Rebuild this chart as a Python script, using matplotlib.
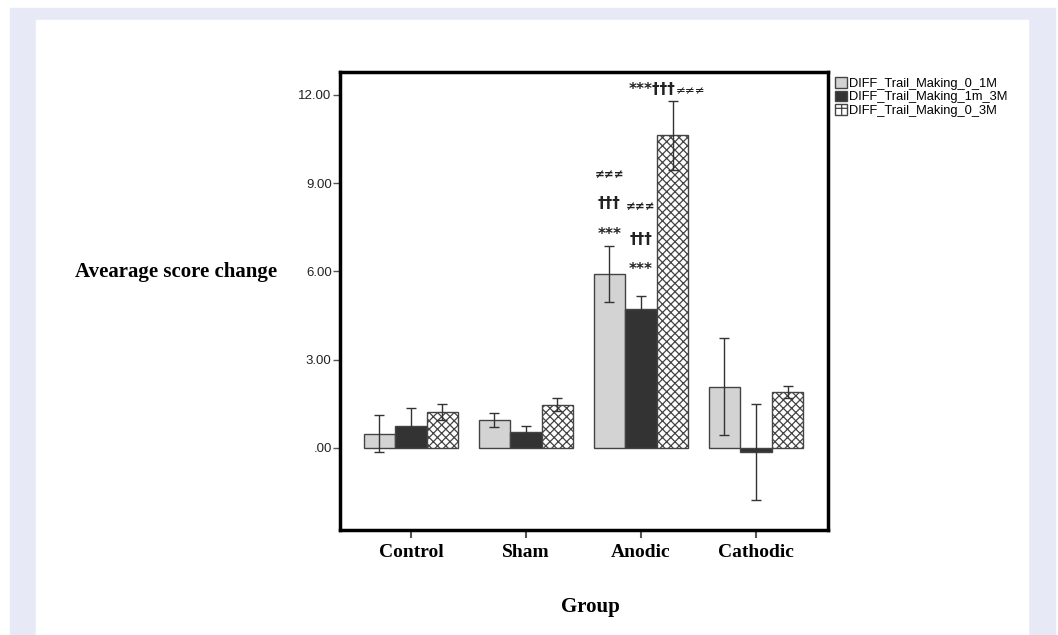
import matplotlib.pyplot as plt
from matplotlib.patches import Rectangle, Patch
from matplotlib.ticker import FuncFormatter
import numpy as np

# data
groups = ['Control', 'Sham', 'Anodic', 'Cathodic']
series = ['DIFF_Trail_Making_0_1M', 'DIFF_Trail_Making_1m_3M', 'DIFF_Trail_Making_0_3M']
m_0_1 = [0.49, 0.95, 5.92, 2.08]
e_0_1 = [0.62, 0.23, 0.96, 1.65]
m_1_3 = [0.76, 0.53, 4.72, -0.15]
e_1_3 = [0.60, 0.21, 0.45, 1.63]
m_0_3 = [1.23, 1.47, 10.63, 1.91]
e_0_3 = [0.28, 0.22, 1.18, 0.21]
yticks = [0, 3, 6, 9, 12]

# significance marks over the Anodic group (series index, label, y)
marks = [
    (0, '***', 7.25), (0, '\u2020\u2020\u2020', 8.3), (0, '\u2260\u2260\u2260', 9.3),
    (1, '***', 6.05), (1, '\u2020\u2020\u2020', 7.1), (1, '\u2260\u2260\u2260', 8.2),
]

plt.rcParams['hatch.color'] = '#333333'
plt.rcParams['hatch.linewidth'] = 0.9

fig = plt.figure(figsize=(10.58, 6.35), dpi=100)
fig.patch.set_facecolor('white')
# page background
fig.add_artist(Rectangle((10 / 1058, 0), 1045 / 1058, 1 - 8 / 635,
                         transform=fig.transFigure, color='#e7eaf6', zorder=-10))
fig.add_artist(Rectangle((36 / 1058, 0), 992 / 1058, 1 - 20 / 635,
                         transform=fig.transFigure, color='white', zorder=-9))

ax = fig.add_axes([340 / 1058, 1 - 530 / 635, 488 / 1058, 458 / 635])
x = np.arange(len(groups))
w = 0.274
edge = '#444444'
ekw = dict(ecolor='#333333', elinewidth=1.0, capsize=3.5, capthick=1.0)

ax.bar(x - w, m_0_1, w, yerr=e_0_1, color='#d3d3d3', edgecolor=edge, linewidth=1.0,
       error_kw=ekw, label=series[0])
ax.bar(x, m_1_3, w, yerr=e_1_3, color='#333333', edgecolor=edge, linewidth=1.0,
       error_kw=ekw, label=series[1])
ax.bar(x + w, m_0_3, w, yerr=e_0_3, color='white', edgecolor=edge, linewidth=1.0,
       hatch='xxxx', error_kw=ekw, label=series[2])

ax.set_xlim(-0.617, 3.626)
ax.set_ylim(-2.79, 12.78)

a = groups.index('Anodic')
for s, txt, yv in marks:
    fs = 8.5 if txt.startswith('\u2260') else 11
    ax.text(a + (s - 1) * w, yv, txt, ha='center', va='center', fontsize=fs,
            family='DejaVu Sans', color='#222222', fontweight='bold')
ax.text(a + w + 0.03, 12.2, '***\u2020\u2020\u2020', ha='right', va='center', fontsize=11,
        family='DejaVu Sans', color='#222222', fontweight='bold')
ax.text(a + w + 0.03, 12.15, '\u2260\u2260\u2260', ha='left', va='center', fontsize=8.5,
        family='DejaVu Sans', color='#222222')

for sp in ax.spines.values():
    sp.set_linewidth(2.5)
    sp.set_color('black')

ax.set_yticks(yticks)
ax.yaxis.set_major_formatter(FuncFormatter(lambda v, p: '.00' if v == 0 else f'{v:.2f}'))
ax.tick_params(axis='y', length=5, width=1, color='#555555', labelsize=9.5,
               labelcolor='#222222', pad=1)
for t in ax.get_yticklabels():
    t.set_family('Liberation Sans')
ax.set_xticks(x)
ax.set_xticklabels(groups, family='Liberation Serif', fontweight='bold', fontsize=14)
ax.tick_params(axis='x', length=6, width=1.5, color='#555555', pad=4)

fig.text(176 / 1058, 1 - 272 / 635, 'Avearage score change', ha='center', va='center',
         family='Liberation Serif', fontweight='bold', fontsize=15)
fig.text(590 / 1058, 1 - 607 / 635, 'Group', ha='center', va='center',
         family='Liberation Serif', fontweight='bold', fontsize=15)

handles = [Patch(facecolor='#d3d3d3', edgecolor=edge),
           Patch(facecolor='#333333', edgecolor=edge),
           Patch(facecolor='white', edgecolor=edge, hatch='+')]
leg = fig.legend(handles, series, loc='upper left', bbox_to_anchor=(826 / 1058, 1 - 68 / 635),
                 frameon=False, handlelength=0.9, handleheight=0.9, handletextpad=0.2,
                 labelspacing=0.05, borderpad=0.2, prop={'family': 'Liberation Sans', 'size': 9.3})

fig.savefig('out.png', dpi=100)
